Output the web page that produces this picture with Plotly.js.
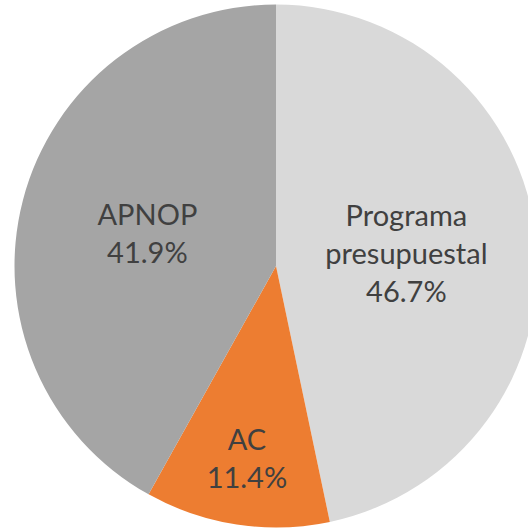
<!DOCTYPE html>
<html>
<head>
<meta charset="utf-8">
<script src="https://cdn.plot.ly/plotly-3.0.1.min.js"></script>
<style>
html, body { margin: 0; padding: 0; overflow: hidden; background: #ffffff; }
#chart { width: 552px; height: 529px; }
</style>
</head>
<body>
<div id="chart"></div>
<script>
const categories = ["Programa<br>presupuestal", "AC", "APNOP"];
const shares = [46.7, 11.4, 41.9];
const sliceColors = ["#D9D9D9", "#ED7D31", "#A5A5A5"];

const trace = {
  type: "pie",
  labels: categories,
  values: shares,
  sort: false,
  direction: "clockwise",
  rotation: 0,
  marker: { colors: sliceColors, line: { color: "#ffffff", width: 0 } },
  textinfo: "label+percent",
  texttemplate: "%{label}<br>%{percent:.1%}",
  textposition: "inside",
  insidetextorientation: "horizontal",
  textfont: { family: "Lato, 'Open Sans', sans-serif", size: 29, color: "#404040" },
  hoverinfo: "none",
  showlegend: false,
  domain: { x: [0, 1], y: [1.5 / 529, 524.5 / 529] }
};

const layout = {
  width: 552,
  height: 529,
  margin: { l: 0, r: 0, t: 0, b: 0 },
  paper_bgcolor: "#ffffff",
  showlegend: false
};

Plotly.newPlot("chart", [trace], layout, { displayModeBar: false, staticPlot: true });
</script>
</body>
</html>
